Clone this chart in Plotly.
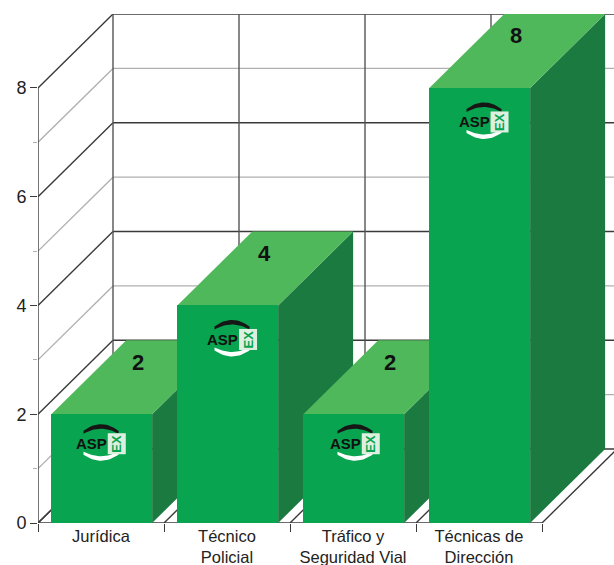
import plotly.graph_objects as go

# ---- data ----
categories = ["Jurídica", "Técnico<br>Policial", "Tráfico y<br>Seguridad Vial", "Técnicas de<br>Dirección"]
values = [2, 4, 2, 8]
major_ticks = [0, 2, 4, 6, 8]
minor_ticks = [1, 3, 5, 7]

# ---- layout constants ----
W, H = 614, 565
PX_X = 1 / 126        # data units per pixel, x
PX_Y = 1 / 54.4       # data units per pixel, y
DX = 75 * PX_X        # depth of the fake 3D, x
DY = 74 * PX_Y        # depth of the fake 3D, y
BAR_W = 0.8
BAR_SHIFT = 0.7 * PX_X
X0, X1 = -0.5, len(categories) - 0.5
FRONT, TOP, SIDE = "#08A44F", "#4FB85A", "#1B7A40"
DARK, GRAY = "#3a3a3a", "#b0b0b0"
LOGO_DX = [-11, -6, -9, -6]
LOGO_DY = [-29.5, -34, -29.5, -34]


def seg(x0, y0, x1, y1, color, width=1.4):
    return dict(type="line", xref="x", yref="y", x0=x0, y0=y0, x1=x1, y1=y1,
                layer="below", line=dict(color=color, width=width))


def poly(points, color):
    path = "M " + " L ".join(f"{x:.4f},{y:.4f}" for x, y in points) + " Z"
    return dict(type="path", xref="x", yref="y", path=path, layer="below",
                fillcolor=color, line=dict(width=0))


shapes = []
# wall grid
for v in minor_ticks:
    shapes.append(seg(X0, v, X0 + DX, v + DY, GRAY))
    shapes.append(seg(X0 + DX, v + DY, X1 + DX, v + DY, GRAY))
for v in major_ticks:
    shapes.append(seg(X0, v, X0 + DX, v + DY, DARK))
    shapes.append(seg(X0 + DX, v + DY, X1 + DX, v + DY, DARK))
for i in range(len(categories) + 1):
    x = X0 + i
    shapes.append(seg(x, 0, x + DX, DY, DARK))
    shapes.append(seg(x + DX, DY, x + DX, 8 + DY, "#555555"))
# front axis lines
shapes.append(seg(X0, 0, X1, 0, DARK))
shapes.append(seg(X0, 0, X0, 8, DARK))

# top and side faces of the bars
for i, v in enumerate(values):
    l, r = i + BAR_SHIFT - BAR_W / 2, i + BAR_SHIFT + BAR_W / 2
    shapes.append(poly([(r, 0), (r + DX, DY), (r + DX, v + DY), (r, v)], SIDE))
    shapes.append(poly([(l, v), (r, v), (r + DX, v + DY), (l + DX, v + DY)], TOP))

fig = go.Figure()
fig.add_trace(go.Bar(x=[i + BAR_SHIFT for i in range(len(values))], y=values, width=BAR_W,
                     marker=dict(color=FRONT, line=dict(width=0)),
                     showlegend=False, hoverinfo="skip"))

# value labels on the top faces
fig.add_trace(go.Scatter(
    x=[i + 37 * PX_X for i in range(len(values))],
    y=[v + 50 * PX_Y for v in values],
    mode="text", text=[str(v) for v in values], textposition="middle center",
    textfont=dict(family="Liberation Sans", size=22, color="#111111", weight="bold"),
    showlegend=False, hoverinfo="skip", cliponaxis=False))

annotations = []
# logo on every bar
for i, v in enumerate(values):
    cx = i + (LOGO_DX[i] + 1) * PX_X    # centre of "ASP"
    cy = v + LOGO_DY[i] * PX_Y
    arc_x = cx + 10 * PX_X
    ts = [t / 10 for t in range(-10, 11)]
    # dark band above, white band below: (colour, outer mid, inner mid, outer end, inner end)
    for col, om, im, oe, ie in (("#161616", 19.5, 15, 13, 10), ("#ffffff", -17, -12.5, -11, -8)):
        xs, ys = [], []
        for t in ts:
            xs.append(arc_x + t * 17.5 * PX_X)
            ys.append(cy + (oe + (om - oe) * (1 - t * t)) * PX_Y)
        for t in reversed(ts):
            xs.append(arc_x + t * 17.5 * PX_X)
            ys.append(cy + (ie + (im - ie) * (1 - t * t)) * PX_Y)
        fig.add_trace(go.Scatter(x=xs, y=ys, mode="lines", fill="toself", fillcolor=col,
                                 line=dict(width=0, color=col), showlegend=False,
                                 hoverinfo="skip", cliponaxis=False))
    annotations.append(dict(x=cx, y=cy, xref="x", yref="y", text="<b>ASP</b>", showarrow=False,
                            font=dict(family="Liberation Sans", size=15, color="#111111")))
    annotations.append(dict(x=cx + 26 * PX_X, y=cy, xref="x", yref="y", text="<b>EX</b>",
                            showarrow=False, textangle=-90, bgcolor="#DDF0DF", borderpad=1,
                            font=dict(family="Liberation Sans", size=13, color=FRONT)))

PLOT_W = W - 38
fig.update_layout(
    width=W, height=H, autosize=False, showlegend=False, bargap=0,
    paper_bgcolor="white", plot_bgcolor="white",
    margin=dict(l=38, r=0, t=14, b=42),
    shapes=shapes, annotations=annotations,
    font=dict(family="Liberation Sans", color="#222222"),
    xaxis=dict(range=[X0, X0 + PLOT_W * PX_X], tickmode="array", automargin=False,
               tickvals=list(range(len(categories))), ticktext=categories,
               ticks="", ticklabelstandoff=1, tickfont=dict(size=16.5),
               showgrid=False, zeroline=False, showline=False, fixedrange=True,
               minor=dict(tickmode="array", tickvals=[X0 + i for i in range(len(categories) + 1)],
                          ticks="outside", ticklen=8, tickcolor=DARK, tickwidth=1.4, showgrid=False)),
    yaxis=dict(range=[0, 8 + DY], tickmode="array", tickvals=major_ticks, automargin=False,
               ticks="outside", ticklen=7, tickcolor=DARK, tickwidth=1.4, tickfont=dict(size=18),
               showgrid=False, zeroline=False, showline=False, fixedrange=True,
               minor=dict(tickmode="array", tickvals=minor_ticks, ticks="outside", ticklen=4,
                          tickcolor=GRAY, tickwidth=1.2, showgrid=False)),
)

fig.write_html("out.html", post_script="document.body.style.margin='0';document.body.style.overflow='hidden';",
               config=dict(displayModeBar=False))
